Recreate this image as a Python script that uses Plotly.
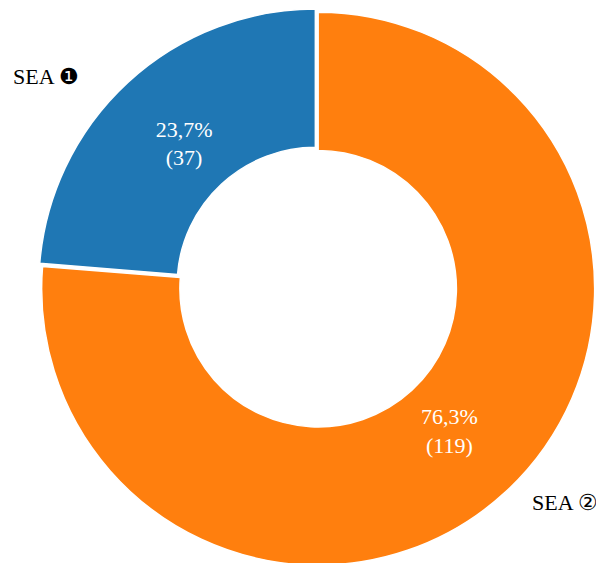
import plotly.graph_objects as go

labels = ["SEA ❶", "SEA ②"]
values = [37, 119]
colors = ["#1f77b4", "#ff7f0e"]
pulls = [0.015, 0]

# the page body adds an 8px offset, so the domain is nudged up/left
dom = dict(x=[0.04, 0.987], y=[0.003, 1.0])
font = "Liberation Serif"

fig = go.Figure()

# drawn in reverse so SEA ❶ sits left of 12 o'clock
fig.add_trace(
    go.Pie(
        labels=labels[::-1],
        values=values[::-1],
        hole=0.5,
        sort=False,
        direction="clockwise",
        rotation=0,
        pull=pulls[::-1],
        marker=dict(colors=colors[::-1], line=dict(color="white", width=1.5)),
        textinfo="none",
        showlegend=False,
        hoverinfo="label+value+percent",
        domain=dom,
    )
)

# transparent copy, only carries the percentage labels a bit further in
fig.add_trace(
    go.Pie(
        labels=labels[::-1],
        values=values[::-1],
        hole=0.4,
        sort=False,
        direction="clockwise",
        rotation=0,
        pull=pulls[::-1],
        marker=dict(colors=["rgba(0,0,0,0)"] * 2, line=dict(width=0)),
        texttemplate="%{percent:.1%}<br>(%{value})",
        textposition="inside",
        insidetextorientation="horizontal",
        textfont=dict(family=font, size=22, color="white"),
        showlegend=False,
        hoverinfo="skip",
        domain=dom,
    )
)

# outside slice labels
fig.add_annotation(x=0.063, y=0.879, xref="paper", yref="paper", text=labels[0],
                   xanchor="center", yanchor="middle", showarrow=False,
                   font=dict(family=font, size=22, color="black"))
fig.add_annotation(x=0.922, y=0.121, xref="paper", yref="paper", text=labels[1],
                   xanchor="center", yanchor="middle", showarrow=False,
                   font=dict(family=font, size=22, color="black"))

fig.update_layout(
    width=604,
    height=563,
    separators=",.",
    paper_bgcolor="white",
    plot_bgcolor="white",
    margin=dict(l=0, r=0, t=0, b=0),
)

fig.write_html("out.html")
